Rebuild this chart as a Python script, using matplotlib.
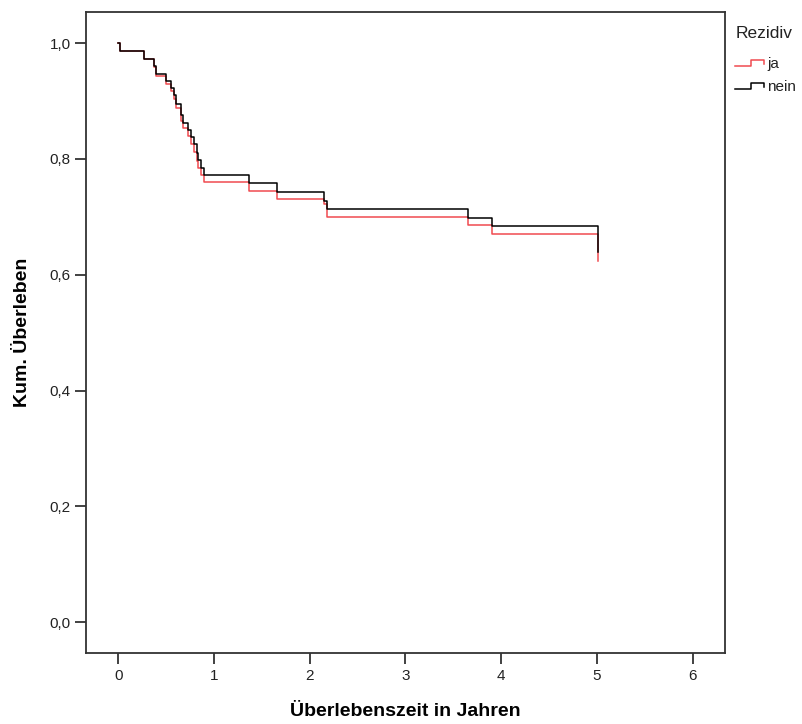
import matplotlib
matplotlib.use("Agg")
from matplotlib import pyplot as plt
from matplotlib.lines import Line2D
import numpy as np

# Kaplan-Meier steps (time in years, survival after drop)
t_nein = [0.0, 0.02, 0.265, 0.37, 0.40, 0.50, 0.55, 0.58, 0.60, 0.66, 0.68, 0.73, 0.76,
          0.79, 0.82, 0.83, 0.86, 0.90, 1.37, 1.655, 2.15, 2.185, 3.65, 3.90, 5.007]
s_nein = [1.0, 0.986, 0.973, 0.960, 0.946, 0.935, 0.923, 0.910, 0.895, 0.875, 0.862, 0.850, 0.838,
          0.826, 0.810, 0.798, 0.785, 0.772, 0.758, 0.742, 0.728, 0.713, 0.698, 0.684, 0.640]

t_ja = [0.0, 0.02, 0.265, 0.37, 0.40, 0.50, 0.55, 0.58, 0.60, 0.66, 0.68, 0.73, 0.76,
        0.79, 0.82, 0.83, 0.86, 0.90, 1.37, 1.655, 2.15, 2.185, 3.65, 3.90, 5.007]
s_ja = [1.0, 0.986, 0.972, 0.958, 0.943, 0.930, 0.917, 0.903, 0.888, 0.866, 0.853, 0.840, 0.826,
        0.812, 0.797, 0.785, 0.772, 0.760, 0.744, 0.731, 0.722, 0.700, 0.686, 0.670, 0.623]

x_ticks = [0, 1, 2, 3, 4, 5, 6]
y_ticks = [0.0, 0.2, 0.4, 0.6, 0.8, 1.0]

red = "#f04a4f"
black = "#000000"
font = "Liberation Sans"

fig = plt.figure(figsize=(8.03, 7.24), dpi=100)
ax = fig.add_axes([0.107, 0.0974, 0.796, 0.8864])

ax.plot(t_ja, s_ja, drawstyle="steps-post", color=red, lw=1.1)
ax.plot(t_nein, s_nein, drawstyle="steps-post", color=black, lw=1.1)

ax.set_xlim(-0.337, 6.34)
ax.set_ylim(-0.054, 1.054)
ax.set_xticks(x_ticks)
ax.set_xticklabels([str(v) for v in x_ticks], family=font, fontsize=11, color="#222222")
ax.set_yticks(y_ticks)
ax.set_yticklabels([("%.1f" % v).replace(".", ",") for v in y_ticks], family=font,
                   fontsize=11, color="#222222")
ax.tick_params(length=8, width=1.3, color="#333333", pad=3)
for sp in ax.spines.values():
    sp.set_linewidth(1.3)
    sp.set_color("#333333")

ax.set_xlabel("Überlebenszeit in Jahren", family=font, fontsize=14, fontweight="bold")
ax.set_ylabel("Kum. Überleben", family=font, fontsize=14, fontweight="bold")
ax.xaxis.set_label_coords(0.5, -0.091)
ax.yaxis.set_label_coords(-0.100, 0.5)
ax.xaxis.label.set_va("center")
ax.yaxis.label.set_va("center")

# legend drawn in figure pixels, SPSS style step icons
def px(x, y):
    return x / 803, 1 - y / 724

fig.text(*px(736, 33), "Rezidiv", family=font, fontsize=12.5, color="#222222", va="center")
for y0, col, lab in [(66, red, "ja"), (89, black, "nein")]:
    xs = [735, 751, 751, 764, 764]
    ys = [y0, y0, y0 - 6, y0 - 6, y0 - 2]
    pts = [px(a, b) for a, b in zip(xs, ys)]
    fig.add_artist(Line2D([p[0] for p in pts], [p[1] for p in pts], color=col, lw=1.1))
    fig.text(*px(767, y0 - 2), lab, family=font, fontsize=11, color="#222222", va="center")

fig.savefig("out.png", dpi=100)
